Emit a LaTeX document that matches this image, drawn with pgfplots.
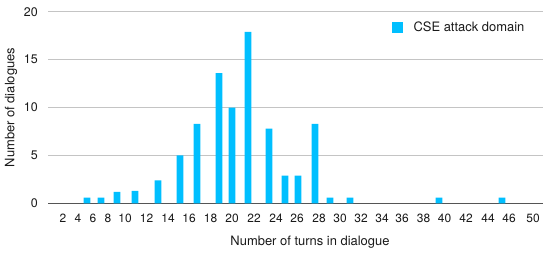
\documentclass[border=0pt]{standalone}
\usepackage{fontspec}
\setmainfont{TeX Gyre Heros}
\usepackage{pgfplots}
\pgfplotsset{compat=1.18}
\usepackage{pgfplotstable}
\definecolor{barcyan}{RGB}{0,191,255}
\definecolor{gridgray}{RGB}{196,196,196}
\definecolor{axisgray}{RGB}{85,85,85}
\definecolor{txt}{RGB}{25,25,25}
% pos = horizontal position of the bar on the chart, count = number of dialogues
\pgfplotstableread{
pos count
87 0.6
101 0.6
117 1.2
135 1.3
158 2.4
180 5.0
197 8.3
219 13.6
232 10.0
248 17.9
269 7.8
285 2.9
298 2.9
315 8.3
330 0.6
350 0.6
439 0.6
502 0.6
}\datatable
\begin{document}
\begin{tikzpicture}
\path[use as bounding box] (-48bp,-49.7bp) rectangle (502bp,203.3bp);
\begin{axis}[
  at={(0,0)}, anchor=south west,
  scale only axis, width=495bp, height=191.6bp,
  xmin=48, xmax=543, ymin=0, ymax=20,
  axis x line*=bottom, axis y line*=left,
  x axis line style={draw=axisgray, line width=1.3bp},
  y axis line style={draw=none},
  ytick={0,5,10,15,20},
  major tick length=0pt, tick style={draw=none},
  ymajorgrids, grid style={gridgray, line width=0.8bp},
  xtick={63,78,93,108,125,146.5,168,189,210.5,232,254,276,297,319,340,361,382,402,423.5,444.5,466,488,509,533},
  xticklabels={2,4,6,8,10,12,14,16,18,20,22,24,26,28,30,32,34,36,38,40,42,44,46,50},
  /pgf/number format/assume math mode=true,
  xticklabel style={inner sep=0pt, anchor=north, yshift=-10.7bp, font=\fontsize{12}{14}\selectfont, text=txt},
  yticklabel style={inner sep=0pt, anchor=east, xshift=-10bp, font=\fontsize{12.5}{14}\selectfont, text=txt},
  xlabel={Number of turns in dialogue},
  ylabel={Number of dialogues},
  every axis x label/.style={at={(axis description cs:0.5293,0)}, anchor=base, yshift=-41.7bp, font=\fontsize{13}{15}\selectfont, text=txt},
  every axis y label/.style={at={(axis description cs:-0.0747,0.5)}, rotate=90, anchor=center, font=\fontsize{13}{15}\selectfont, text=txt},
  legend style={at={(axis description cs:0.695,0.9175)}, anchor=west, draw=none, fill=none, inner sep=0pt, outer sep=0pt, font=\fontsize{13}{16}\selectfont, text=txt, /tikz/every odd column/.append style={column sep=9bp}},
]
\addplot[ybar, bar width=6.7bp, fill=barcyan, draw=none,
  legend image code/.code={\fill[barcyan] (0bp,-5.25bp) rectangle (10.5bp,5.25bp);}]
  table[x=pos, y=count] {\datatable};
\addlegendentry{CSE attack domain}
\end{axis}
\end{tikzpicture}
\end{document}
